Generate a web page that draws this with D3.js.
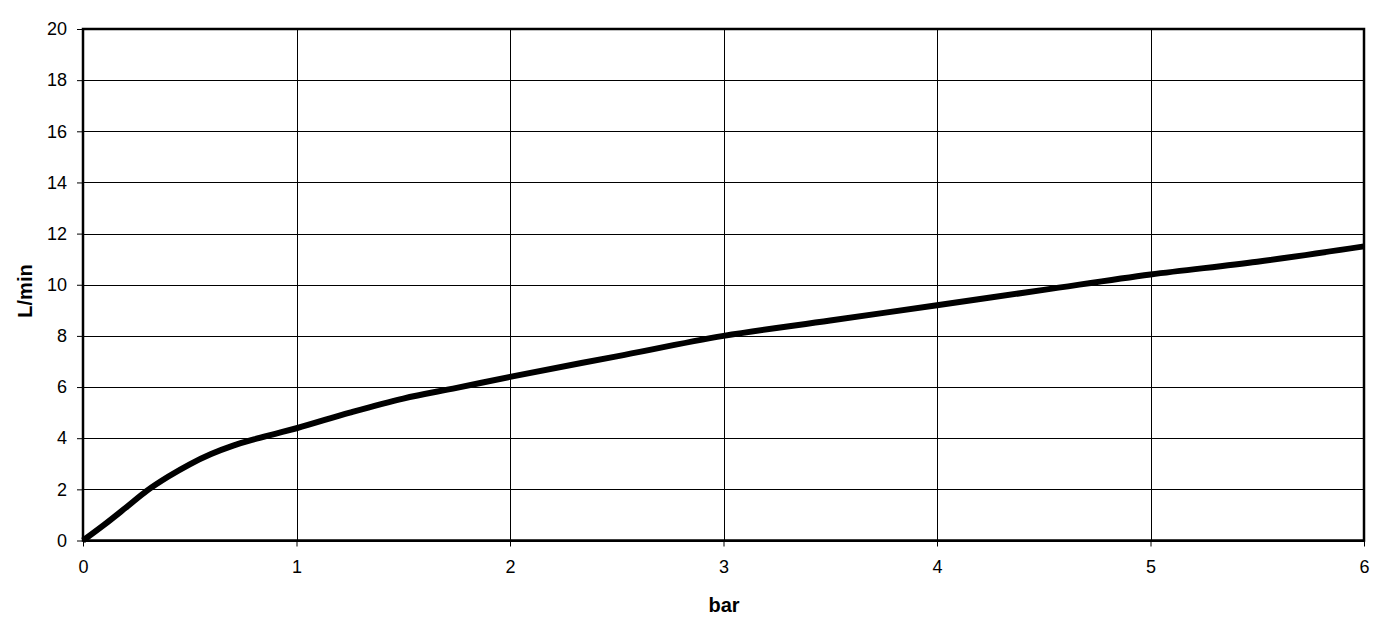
<!DOCTYPE html>
<html><head><meta charset="utf-8">
<script src="https://cdn.jsdelivr.net/npm/d3@7"></script>
<style>body{margin:0;background:#fff}svg{display:block}text{font-family:"Liberation Sans",Arial,sans-serif}</style>
</head><body><svg id="c" width="1399" height="633"></svg>
<script>
const pressure = [0,0.1,0.2,0.3,0.4,0.5,0.6,0.7,0.8,0.9,1.0,1.25,1.5,1.75,2.0,2.5,3.0,3.5,4.0,4.5,5.0,5.5,6.0];
const flow     = [0,0.62,1.28,1.95,2.5,2.98,3.38,3.7,3.95,4.17,4.39,5.0,5.55,5.97,6.4,7.2,8.0,8.6,9.2,9.8,10.4,10.9,11.5];
const xTicks = [0,1,2,3,4,5,6];
const yTicks = [0,2,4,6,8,10,12,14,16,18,20];

const svg = d3.select("#c");
const L=83,R=1364,T=29,B=540.5;
const x = d3.scaleLinear().domain([0,6]).range([L,R]);
const y = d3.scaleLinear().domain([0,20]).range([B,T]);

// grid
svg.append("g").selectAll("line").data(yTicks).join("line")
  .attr("x1",L).attr("x2",R).attr("y1",d=>Math.round(y(d))+0.5).attr("y2",d=>Math.round(y(d))+0.5)
  .attr("stroke","#000").attr("stroke-width",1);
svg.append("g").selectAll("line").data(xTicks).join("line")
  .attr("y1",T).attr("y2",B).attr("x1",d=>Math.round(x(d))+0.5).attr("x2",d=>Math.round(x(d))+0.5)
  .attr("stroke","#000").attr("stroke-width",1);

// axes
const xAxis = d3.axisBottom(x).tickValues(xTicks).tickSize(6).tickPadding(14).tickFormat(d3.format("d"));
const yAxis = d3.axisLeft(y).tickValues(yTicks).tickSize(6).tickPadding(10).tickFormat(d3.format("d"));
const gx = svg.append("g").attr("transform",`translate(0,${B})`).call(xAxis);
const gy = svg.append("g").attr("transform",`translate(${L},0)`).call(yAxis);
[gx,gy].forEach(g=>{
  g.select(".domain").remove();
  g.selectAll("line").attr("stroke","#000");
  g.selectAll("text").attr("font-size",18).attr("fill","#000").attr("font-family","Liberation Sans, Arial, sans-serif");
});

// border
svg.append("rect").attr("x",L).attr("y",T).attr("width",R-L).attr("height",B-T)
  .attr("fill","none").attr("stroke","#000").attr("stroke-width",2.5);

// line
const line = d3.line().x((d,i)=>x(pressure[i])).y(d=>y(d)).curve(d3.curveMonotoneX);
svg.append("path").datum(flow).attr("d",line).attr("fill","none")
  .attr("stroke","#000").attr("stroke-width",6).attr("stroke-linejoin","round");

// titles
svg.append("text").attr("x",724).attr("y",611.5).attr("text-anchor","middle")
  .attr("font-size",20).attr("font-weight","bold").text("bar");
svg.append("text").attr("transform",`translate(32,291) rotate(-90)`).attr("text-anchor","middle")
  .attr("font-size",20).attr("font-weight","bold").text("L/min");
</script></body></html>
